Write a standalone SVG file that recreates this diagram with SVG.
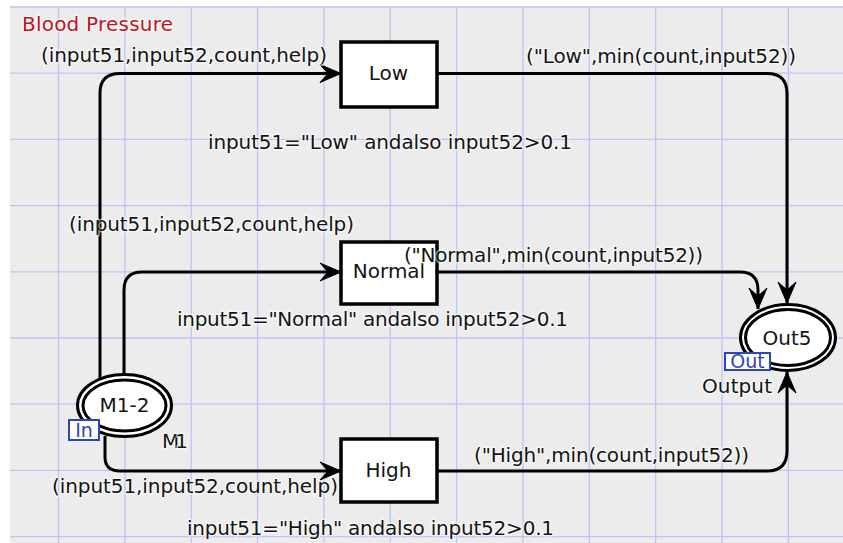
<svg xmlns="http://www.w3.org/2000/svg" width="843" height="543" viewBox="0 0 843 543">
<style>
text{font-family:"DejaVu Sans","Verdana",sans-serif;font-size:20px;fill:#141414;stroke:#fff;stroke-width:3;stroke-opacity:0.55;paint-order:stroke;stroke-linejoin:round}
.grid line{stroke:#c2c2f2;stroke-width:1.3}
.arc{fill:none;stroke:#000;stroke-width:3;marker-end:url(#arr)}
.trans{fill:#fff;stroke:#000;stroke-width:3.5}
.ring{fill:#fff;stroke:#000;stroke-width:3}
.tag{fill:#fff;stroke:#2a46b8;stroke-width:2}
.tagt{fill:#2a46b8;font-size:19px;text-anchor:middle;stroke:none}
.mid{text-anchor:middle}
</style>
<defs>
<marker id="arr" viewBox="-23 -11 25 22" refX="0" refY="0" markerWidth="25" markerHeight="22" markerUnits="userSpaceOnUse" orient="auto">
<path d="M0,0 L-21,-9 L-13,0 L-21,9 Z" fill="#000" stroke="#000" stroke-width="1" stroke-linejoin="miter"/>
</marker>
</defs>
<rect x="0" y="0" width="843" height="543" fill="#fff"/>
<g class="grid">
<rect x="10" y="7" width="833" height="536" fill="#ececec"/>
<line x1="10" y1="7" x2="843" y2="7"/>
<line x1="10" y1="73.2" x2="843" y2="73.2"/>
<line x1="10" y1="139.4" x2="843" y2="139.4"/>
<line x1="10" y1="205.6" x2="843" y2="205.6"/>
<line x1="10" y1="271.8" x2="843" y2="271.8"/>
<line x1="10" y1="338" x2="843" y2="338"/>
<line x1="10" y1="404.2" x2="843" y2="404.2"/>
<line x1="10" y1="470.4" x2="843" y2="470.4"/>
<line x1="10" y1="536.6" x2="843" y2="536.6"/>
<line x1="58.5" y1="7" x2="58.5" y2="543"/>
<line x1="124.85" y1="7" x2="124.85" y2="543"/>
<line x1="191.2" y1="7" x2="191.2" y2="543"/>
<line x1="257.55" y1="7" x2="257.55" y2="543"/>
<line x1="323.9" y1="7" x2="323.9" y2="543"/>
<line x1="390.25" y1="7" x2="390.25" y2="543"/>
<line x1="456.6" y1="7" x2="456.6" y2="543"/>
<line x1="522.95" y1="7" x2="522.95" y2="543"/>
<line x1="589.3" y1="7" x2="589.3" y2="543"/>
<line x1="655.65" y1="7" x2="655.65" y2="543"/>
<line x1="722" y1="7" x2="722" y2="543"/>
<line x1="788.35" y1="7" x2="788.35" y2="543"/>
</g>
<text x="22" y="31" textLength="151" style="fill:#c0141c">Blood Pressure</text>
<g id="connectors">
<path class="arc" d="M100,378 V93 Q100,73.5 120,73.5 H341"/>
<path class="arc" d="M124,374 V290 Q124,272 142,272 H341"/>
<path class="arc" d="M105,436 V457 Q105,471 120,471 H341"/>
<path class="arc" d="M437,73.5 H767 Q787,73.5 787,93.5 V303"/>
<path class="arc" d="M437,272 H740 Q758,272 758,290 V309"/>
<path class="arc" d="M437,471 H767 Q787,471 787,451 V372"/>
</g>
<g id="place-M1-2">
<ellipse class="ring" cx="124.5" cy="405.5" rx="47" ry="31"/>
<ellipse class="ring" cx="124.5" cy="405.5" rx="41.5" ry="25.5"/>
<text class="mid" x="124.5" y="412">M1-2</text>
<rect class="tag" x="69" y="420" width="30" height="20"/>
<text class="tagt" x="84" y="437">In</text>
<text x="162" y="448" textLength="26">M1</text>
</g>
<g id="place-Out5">
<ellipse class="ring" cx="788" cy="337.5" rx="47.5" ry="33"/>
<ellipse class="ring" cx="788" cy="337.5" rx="42.5" ry="28"/>
<text class="mid" x="787" y="345">Out5</text>
<rect class="tag" x="725" y="353" width="45" height="17"/>
<text class="tagt" x="747.5" y="368">Out</text>
<text x="702" y="393" textLength="70">Output</text>
</g>
<g id="trans-Low">
<rect class="trans" x="341" y="42" width="96" height="65"/>
<text class="mid" x="388.5" y="80">Low</text>
<text x="208" y="149" textLength="364">input51="Low" andalso input52&gt;0.1</text>
</g>
<g id="trans-Normal">
<rect class="trans" x="341" y="242" width="96" height="62"/>
<text class="mid" x="389" y="278">Normal</text>
<text x="177" y="326" textLength="391">input51="Normal" andalso input52&gt;0.1</text>
</g>
<g id="trans-High">
<rect class="trans" x="341" y="439" width="96" height="63"/>
<text class="mid" x="388.5" y="477">High</text>
<text x="187" y="535" textLength="367">input51="High" andalso input52&gt;0.1</text>
</g>
<g id="arc-inscriptions">
<text x="41" y="62" textLength="286">(input51,input52,count,help)</text>
<text x="526" y="63" textLength="270">("Low",min(count,input52))</text>
<text x="69" y="231" textLength="285">(input51,input52,count,help)</text>
<text x="404" y="262" textLength="299">("Normal",min(count,input52))</text>
<text x="52" y="493" textLength="286">(input51,input52,count,help)</text>
<text x="474" y="462" textLength="275">("High",min(count,input52))</text>
</g>
</svg>
